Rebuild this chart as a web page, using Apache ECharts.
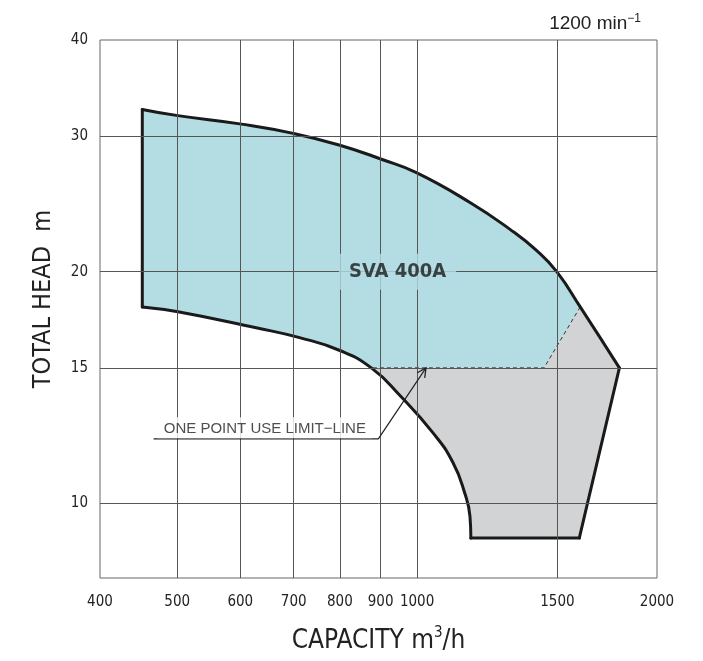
<!DOCTYPE html>
<html>
<head>
<meta charset="utf-8">
<script src="https://cdn.jsdelivr.net/npm/echarts@6/dist/echarts.min.js"></script>
<style>
html, body { margin: 0; padding: 0; background: #fff; overflow: hidden; }
#main { width: 100vw; height: 100vh; }
</style>
</head>
<body>
<div id="main"></div>
<script>
// axis ticks
var capTicks = [400, 500, 600, 700, 800, 900, 1000, 1500, 2000];
var headTicks = [10, 15, 20, 30, 40];
var capGrid = [500, 600, 700, 800, 900, 1000, 1500];
var headGrid = [10, 15, 20, 30];

// SVA 400A selection range, [capacity m3/h, head m]
var upperCurve = [[452, 32.5], [501, 31.9], [602, 31.1], [699, 30.25], [800, 29.2], [902, 28.0],
    [998, 26.9], [1165, 24.6], [1308, 22.7], [1413, 21.3], [1497, 20.0], [1602, 18.0], [1794, 15.0]];
var rightEdge = [[1794, 15.0], [1598, 9.02]];
var bottomEdge = [[1598, 9.02], [1168, 9.02]];
var lowerCurve = [[1168, 9.02], [1165, 9.62], [1148, 10.3], [1109, 11.3], [1047, 12.35], [951, 13.82],
    [876, 15.0], [800, 15.8], [712, 16.42], [628, 16.91], [501, 17.74], [452, 18.0]];
var leftEdge = [[452, 18.0], [452, 32.5]];
// one point use limit-line
var limitLine = [[1602, 18.0], [1443, 15.0], [876, 15.0]];

var modelLabel = [[945, 20]];
var noteLine = [[467, 12.13], [894, 12.13], [1026, 15.0]];
var noteText = [[644, 12.13]];

var fontCond = "'DejaVu Sans Condensed', 'Liberation Sans', sans-serif";
var fontPlain = "'Liberation Sans', Arial, sans-serif";

// blue: normal range, grey: one point use
var iLow15 = 6; // index of [876,15] in lowerCurve
var bluePoly = upperCurve.slice(0, 12).concat([limitLine[1]]).concat(lowerCurve.slice(iLow15));
var greyPoly = [limitLine[2], limitLine[1], limitLine[0], upperCurve[12]]
    .concat(rightEdge.slice(1)).concat(bottomEdge.slice(1)).concat(lowerCurve.slice(1, iLow15 + 1));

function polySeries(pts, color) {
    return {
        type: 'custom',
        silent: true,
        z: 1,
        clip: true,
        data: pts,
        renderItem: function (params, api) {
            if (params.dataIndex !== 0) {
                return;
            }
            return {
                type: 'polygon',
                shape: {points: pts.map(function (p) { return api.coord(p); })},
                style: {fill: color}
            };
        }
    };
}

function edgeSeries(pts, smooth) {
    return {
        type: 'line',
        data: pts,
        smooth: smooth,
        symbol: 'none',
        silent: true,
        z: 4,
        lineStyle: {color: '#1a1a1a', width: 3, cap: 'round', join: 'round'}
    };
}

var gridLines = capGrid.map(function (v) { return {xAxis: v}; })
    .concat(headGrid.map(function (v) { return {yAxis: v}; }));

var chart = echarts.init(document.getElementById('main'));
// layout was measured on a 703x661 page
var kx = chart.getWidth() / 703;
var ky = chart.getHeight() / 661;

var option = {
    animation: false,
    title: {
        text: '1200 min{sup|−1}',
        right: 57 * kx,
        top: 8 * ky,
        textStyle: {
            fontFamily: fontPlain,
            fontSize: 19,
            fontWeight: 'normal',
            color: '#222',
            lineHeight: 22,
            rich: {
                sup: {fontSize: 12, lineHeight: 12, verticalAlign: 'top', color: '#222', fontFamily: fontPlain}
            }
        }
    },
    grid: {
        left: 100 * kx,
        top: 40 * ky,
        width: 557 * kx,
        height: 542 * ky,
        show: true,
        borderColor: '#666',
        borderWidth: 1
    },
    xAxis: {
        type: 'log',
        logBase: 10,
        min: 400,
        max: 2000,
        axisLine: {show: false},
        axisTick: {show: false},
        splitLine: {show: false},
        axisLabel: {
            customValues: capTicks,
            margin: 17 * ky,
            color: '#222',
            fontSize: 15,
            fontFamily: fontCond,
            formatter: function (v) { return String(v); }
        },
        name: 'CAPACITY m{sup|3}/h',
        nameLocation: 'middle',
        nameGap: 48 * ky,
        nameTextStyle: {
            fontFamily: fontCond,
            fontSize: 26,
            color: '#222',
            lineHeight: 30,
            rich: {
                sup: {fontSize: 15, lineHeight: 15, verticalAlign: 'top', color: '#222', fontFamily: fontCond}
            }
        }
    },
    yAxis: {
        type: 'log',
        logBase: 10,
        min: 8,
        max: 40,
        axisLine: {show: false},
        axisTick: {show: false},
        splitLine: {show: false},
        axisLabel: {
            customValues: headTicks,
            margin: 12 * kx,
            color: '#222',
            fontSize: 15,
            fontFamily: fontCond
        },
        name: 'TOTAL HEAD  m',
        nameLocation: 'middle',
        nameRotate: 90,
        nameGap: 44 * kx,
        nameTextStyle: {
            fontFamily: fontCond,
            fontSize: 25,
            color: '#222',
            padding: [0, 0, 0, 20 * ky]
        }
    },
    series: [
        polySeries(bluePoly, '#b4dce3'),
        polySeries(greyPoly, '#d2d3d5'),
        {
            // grid
            type: 'line',
            data: [],
            silent: true,
            z: 2,
            markLine: {
                silent: true,
                symbol: 'none',
                label: {show: false},
                lineStyle: {color: '#555', width: 1, type: 'solid'},
                data: gridLines
            }
        },
        {
            type: 'line',
            data: limitLine,
            symbol: 'none',
            silent: true,
            z: 3,
            lineStyle: {color: '#333', width: 1, type: [4, 3]}
        },
        edgeSeries(upperCurve, 0.5),
        edgeSeries(rightEdge, false),
        edgeSeries(bottomEdge, false),
        edgeSeries(lowerCurve, 0.5),
        edgeSeries(leftEdge, false),
        {
            type: 'line',
            data: noteLine.map(function (p, i) {
                if (i < noteLine.length - 1) {
                    return {value: p, symbol: 'none'};
                }
                return {
                    value: p,
                    symbol: 'path://M0,10 L5,0 L10,10',
                    symbolSize: [9, 9],
                    symbolRotate: -34,
                    symbolOffset: [-2.5, 3.7],
                    itemStyle: {color: 'rgba(0,0,0,0)', borderColor: '#222', borderWidth: 1.3}
                };
            }),
            silent: true,
            z: 6,
            lineStyle: {color: '#222', width: 1.2}
        },
        {
            type: 'scatter',
            data: noteText,
            symbolSize: 1,
            silent: true,
            z: 7,
            itemStyle: {color: 'rgba(0,0,0,0)'},
            label: {
                show: true,
                position: 'top',
                distance: 0,
                formatter: 'ONE POINT USE LIMIT−LINE',
                fontFamily: fontPlain,
                fontSize: 15,
                color: '#222',
                backgroundColor: '#fff',
                padding: [4, 6, 2, 6]
            }
        },
        {
            type: 'scatter',
            data: modelLabel,
            symbolSize: 1,
            silent: true,
            z: 7,
            itemStyle: {color: 'rgba(0,0,0,0)'},
            label: {
                show: true,
                position: 'inside',
                formatter: 'SVA 400A',
                fontFamily: fontCond,
                fontWeight: 'bold',
                fontSize: 20,
                color: '#1a1a1a',
                backgroundColor: '#b4dce3',
                padding: [8, 10, 8, 10]
            }
        }
    ]
};

chart.setOption(option);
</script>
</body>
</html>
